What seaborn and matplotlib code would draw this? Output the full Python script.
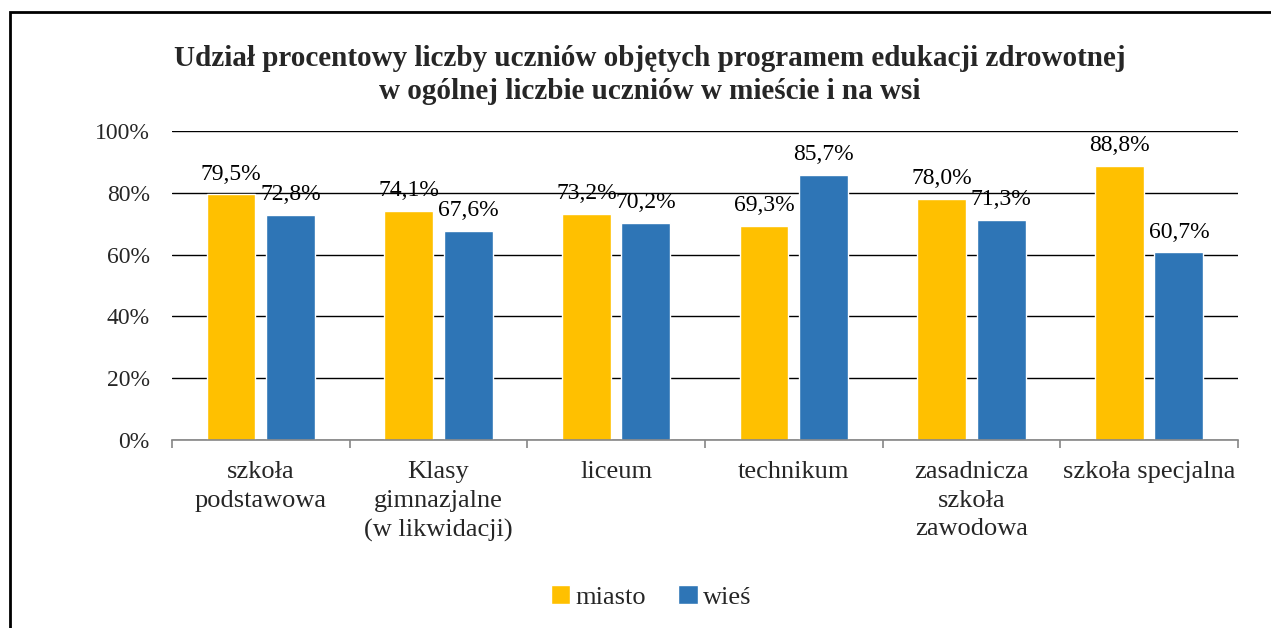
import numpy as np
import pandas as pd
import seaborn as sns
import matplotlib.pyplot as plt
from matplotlib.patches import Rectangle
from matplotlib.ticker import FixedLocator, PercentFormatter

# data
categories = ['szkoła\npodstawowa', 'Klasy\ngimnazjalne\n(w likwidacji)', 'liceum',
              'technikum', 'zasadnicza\nszkoła\nzawodowa', 'szkoła specjalna']
miasto = [79.5, 74.1, 73.2, 69.3, 78.0, 88.8]
wies = [72.8, 67.6, 70.2, 85.7, 71.3, 60.7]
series = ['miasto', 'wieś']
colors = ['#FFC000', '#2E75B6']

df = pd.DataFrame({
    'kategoria': categories * 2,
    'wartosc': miasto + wies,
    'seria': [series[0]] * len(categories) + [series[1]] * len(categories),
})

sns.set_style('white')
plt.rcParams['font.family'] = ['Liberation Serif', 'DejaVu Serif']

fig = plt.figure(figsize=(12.71, 6.28), dpi=100)
ax = fig.add_axes([0.1353, 0.2994, 0.974 - 0.1353, 0.7914 - 0.2994])

sns.barplot(data=df, x='kategoria', y='wartosc', hue='seria', order=categories,
            hue_order=series, palette=colors, width=0.67, gap=0.18,
            saturation=1, ax=ax, legend=True)

# value labels with comma decimals
for cont in ax.containers:
    labels = [f'{v:.1f}%'.replace('.', ',') for v in cont.datavalues]
    ax.bar_label(cont, labels=labels, padding=7, fontsize=17, color='black')

ax.set_ylim(0, 100)
ax.set_xlim(-0.5, len(categories) - 0.5)
ax.yaxis.set_major_locator(FixedLocator([0, 20, 40, 60, 80, 100]))
ax.yaxis.set_major_formatter(PercentFormatter(decimals=0))
ax.grid(axis='y', color='black', linewidth=1)
ax.set_axisbelow(True)
for s in ['top', 'right', 'left']:
    ax.spines[s].set_visible(False)
ax.spines['bottom'].set_color('#868686')
ax.spines['bottom'].set_linewidth(1.2)
ax.set_xlabel('')
ax.set_ylabel('')
ax.tick_params(axis='y', length=0, labelsize=17, pad=16)
ax.tick_params(axis='x', which='major', length=0, labelsize=19, pad=15)
ax.xaxis.set_minor_locator(FixedLocator(np.arange(-0.5, len(categories), 1.0)))
ax.tick_params(axis='x', which='minor', length=6, width=1.2, color='#868686',
               direction='out', bottom=True)
for lbl in ax.get_xticklabels():
    lbl.set_linespacing(1.4)

handles, labs = ax.get_legend_handles_labels()
ax.legend_.remove()
fig.legend(handles, labs, loc='center', bbox_to_anchor=(651 / 1271, 1 - 597 / 628),
           ncol=2, frameon=False, fontsize=19, handlelength=0.75, handleheight=0.75,
           handletextpad=0.2, columnspacing=1.2)

fig.suptitle('Udział procentowy liczby uczniów objętych programem edukacji zdrowotnej\n'
             'w ogólnej liczbie uczniów w mieście i na wsi',
             x=650 / 1271, y=1 - 45 / 628, va='top', fontsize=21, fontweight='bold',
             linespacing=1.3)

# outer chart frame (right and bottom edges fall outside the picture)
fig.patches.append(Rectangle((10 / 1271, -0.1), 1.2, 1 - 12 / 628 + 0.1,
                             transform=fig.transFigure, fill=False,
                             edgecolor='black', linewidth=2))

fig.savefig('out.png', dpi=100)
